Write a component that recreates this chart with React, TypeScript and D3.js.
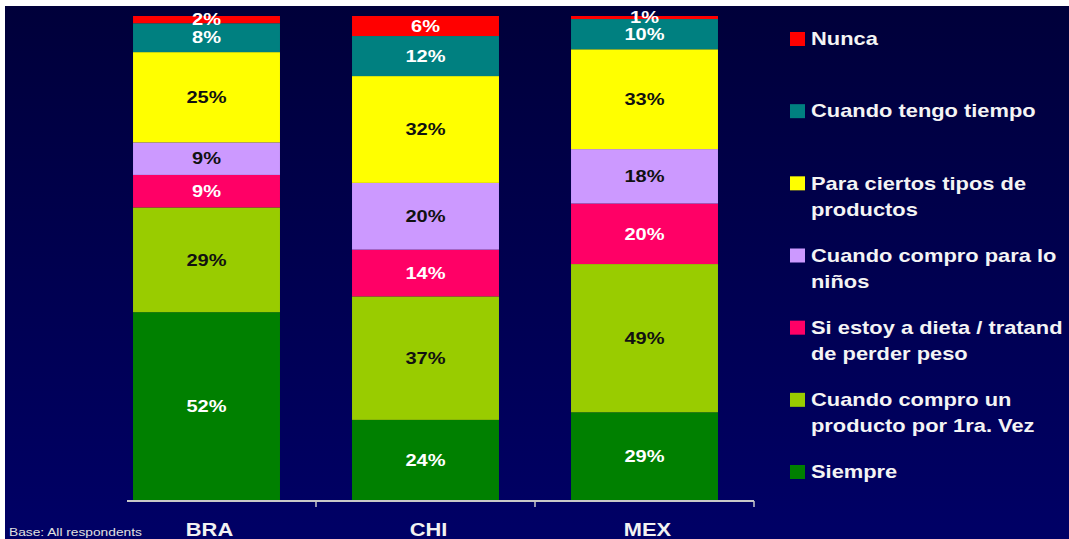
import React from "react";
import * as d3 from "d3";

const categories = ["BRA", "CHI", "MEX"];
// stack order bottom -> top
const seriesNames = [
  "Siempre",
  "Cuando compro un producto por 1ra. Vez",
  "Si estoy a dieta / tratando de perder peso",
  "Cuando compro para los niños",
  "Para ciertos tipos de productos",
  "Cuando tengo tiempo",
  "Nunca",
];
const siempre = [52, 24, 29];
const primeraVez = [29, 37, 49];
const dieta = [9, 14, 20];
const ninos = [9, 20, 18];
const ciertosTipos = [25, 32, 33];
const tiempo = [8, 12, 10];
const nunca = [2, 6, 1];
const seriesValues = [siempre, primeraVez, dieta, ninos, ciertosTipos, tiempo, nunca];

const colors = ["#008000", "#99cc00", "#ff0066", "#cc99ff", "#ffff00", "#008080", "#ff0000"];
const labelColors = ["#ffffff", "#111111", "#ffffff", "#111111", "#111111", "#ffffff", "#ffffff"];

// legend text lines, top -> bottom as shown
const legendLines = [
  ["Nunca"],
  ["Cuando tengo tiempo"],
  ["Para ciertos tipos de", "productos"],
  ["Cuando compro para lo", "niños"],
  ["Si estoy a dieta / tratand", "de perder peso"],
  ["Cuando compro un", "producto por 1ra. Vez"],
  ["Siempre"],
];

const W = 1069;
const H = 539;
const SX = 1.25;
const FONT = "'Liberation Sans', Arial, sans-serif";

export default function App() {
  const table = categories.map((c, i) => {
    const row: any = { cat: c };
    seriesNames.forEach((s, k) => (row[s] = seriesValues[k][i]));
    return row;
  });
  const stacked = d3.stack<any>().keys(seriesNames).offset(d3.stackOffsetExpand)(table);

  const x = d3.scaleBand<string>().domain(categories).range([97, 754]).padding(0);
  const bw = x.bandwidth();
  const barW = bw * 0.671;
  const y = d3.scaleLinear().domain([0, 1]).range([500, 16]);

  const legendY = d3.scaleLinear().domain([0, legendLines.length - 1]).range([39, 472]);

  return (
    <svg
      width={W}
      height={H}
      style={{ position: "absolute", left: 0, top: 0, display: "block" }}
      fontFamily={FONT}
    >
      <defs>
        <linearGradient id="bg" x1="0" y1="0" x2="0" y2="1">
          <stop offset="0" stopColor="#00003a" />
          <stop offset="1" stopColor="#000066" />
        </linearGradient>
        <clipPath id="legclip">
          <rect x={760} y={0} width={304} height={H} />
        </clipPath>
      </defs>
      <rect x={0} y={0} width={W} height={H} fill="#ffffff" />
      <rect x={5} y={6} width={W - 5} height={H - 6} fill="url(#bg)" />

      {stacked.map((layer, k) =>
        layer.map((d, i) => {
          const cat = categories[i];
          const x0 = (x(cat) as number) + (bw - barW) / 2;
          const y0 = y(d[1]);
          const y1 = y(d[0]);
          return (
            <rect key={`r${k}-${i}`} x={x0} y={y0} width={barW} height={y1 - y0} fill={colors[k]} />
          );
        })
      )}
      {stacked.map((layer, k) =>
        layer.map((d, i) => {
          const cat = categories[i];
          const cx = (x(cat) as number) + bw / 2;
          const cy = (y(d[0]) + y(d[1])) / 2;
          return (
            <text
              key={`t${k}-${i}`}
              transform={`translate(${cx},${cy + 5.8}) scale(${SX},1)`}
              textAnchor="middle"
              fontSize={16}
              fontWeight="bold"
              fill={labelColors[k]}
            >
              {seriesValues[k][i]}%
            </text>
          );
        })
      )}

      {/* axis */}
      <line x1={127} x2={x.range()[1]} y1={501} y2={501} stroke="#c8c8c8" strokeWidth={2} />
      {categories.map((c) => {
        const tx = (x(c) as number) + bw;
        return <line key={`tk${c}`} x1={tx} x2={tx} y1={501} y2={507} stroke="#c8c8c8" strokeWidth={1.5} />;
      })}
      {categories.map((c) => (
        <text
          key={`cl${c}`}
          transform={`translate(${(x(c) as number) + bw / 2 + 3},${536}) scale(${SX},1)`}
          textAnchor="middle"
          fontSize={17.5}
          fontWeight="bold"
          fill="#f2f2f2"
        >
          {c}
        </text>
      ))}

      <text transform={`translate(9,536) scale(${SX},1)`} fontSize={11} fill="#e0e0e0">
        Base: All respondents
      </text>

      {/* legend */}
      <g clipPath="url(#legclip)">
        {legendLines.map((lines, j) => {
          const k = seriesNames.length - 1 - j;
          const cy = legendY(j);
          return (
            <g key={`lg${j}`}>
              <rect x={790} y={cy - 7} width={15} height={14} fill={colors[k]} />
              {lines.map((ln, li) => (
                <text
                  key={`ll${li}`}
                  transform={`translate(811,${cy + 6.3 + li * 26}) scale(${SX},1)`}
                  fontSize={17.5}
                  fontWeight="bold"
                  fill="#f4f4f4"
                >
                  {ln}
                </text>
              ))}
            </g>
          );
        })}
      </g>
    </svg>
  );
}
